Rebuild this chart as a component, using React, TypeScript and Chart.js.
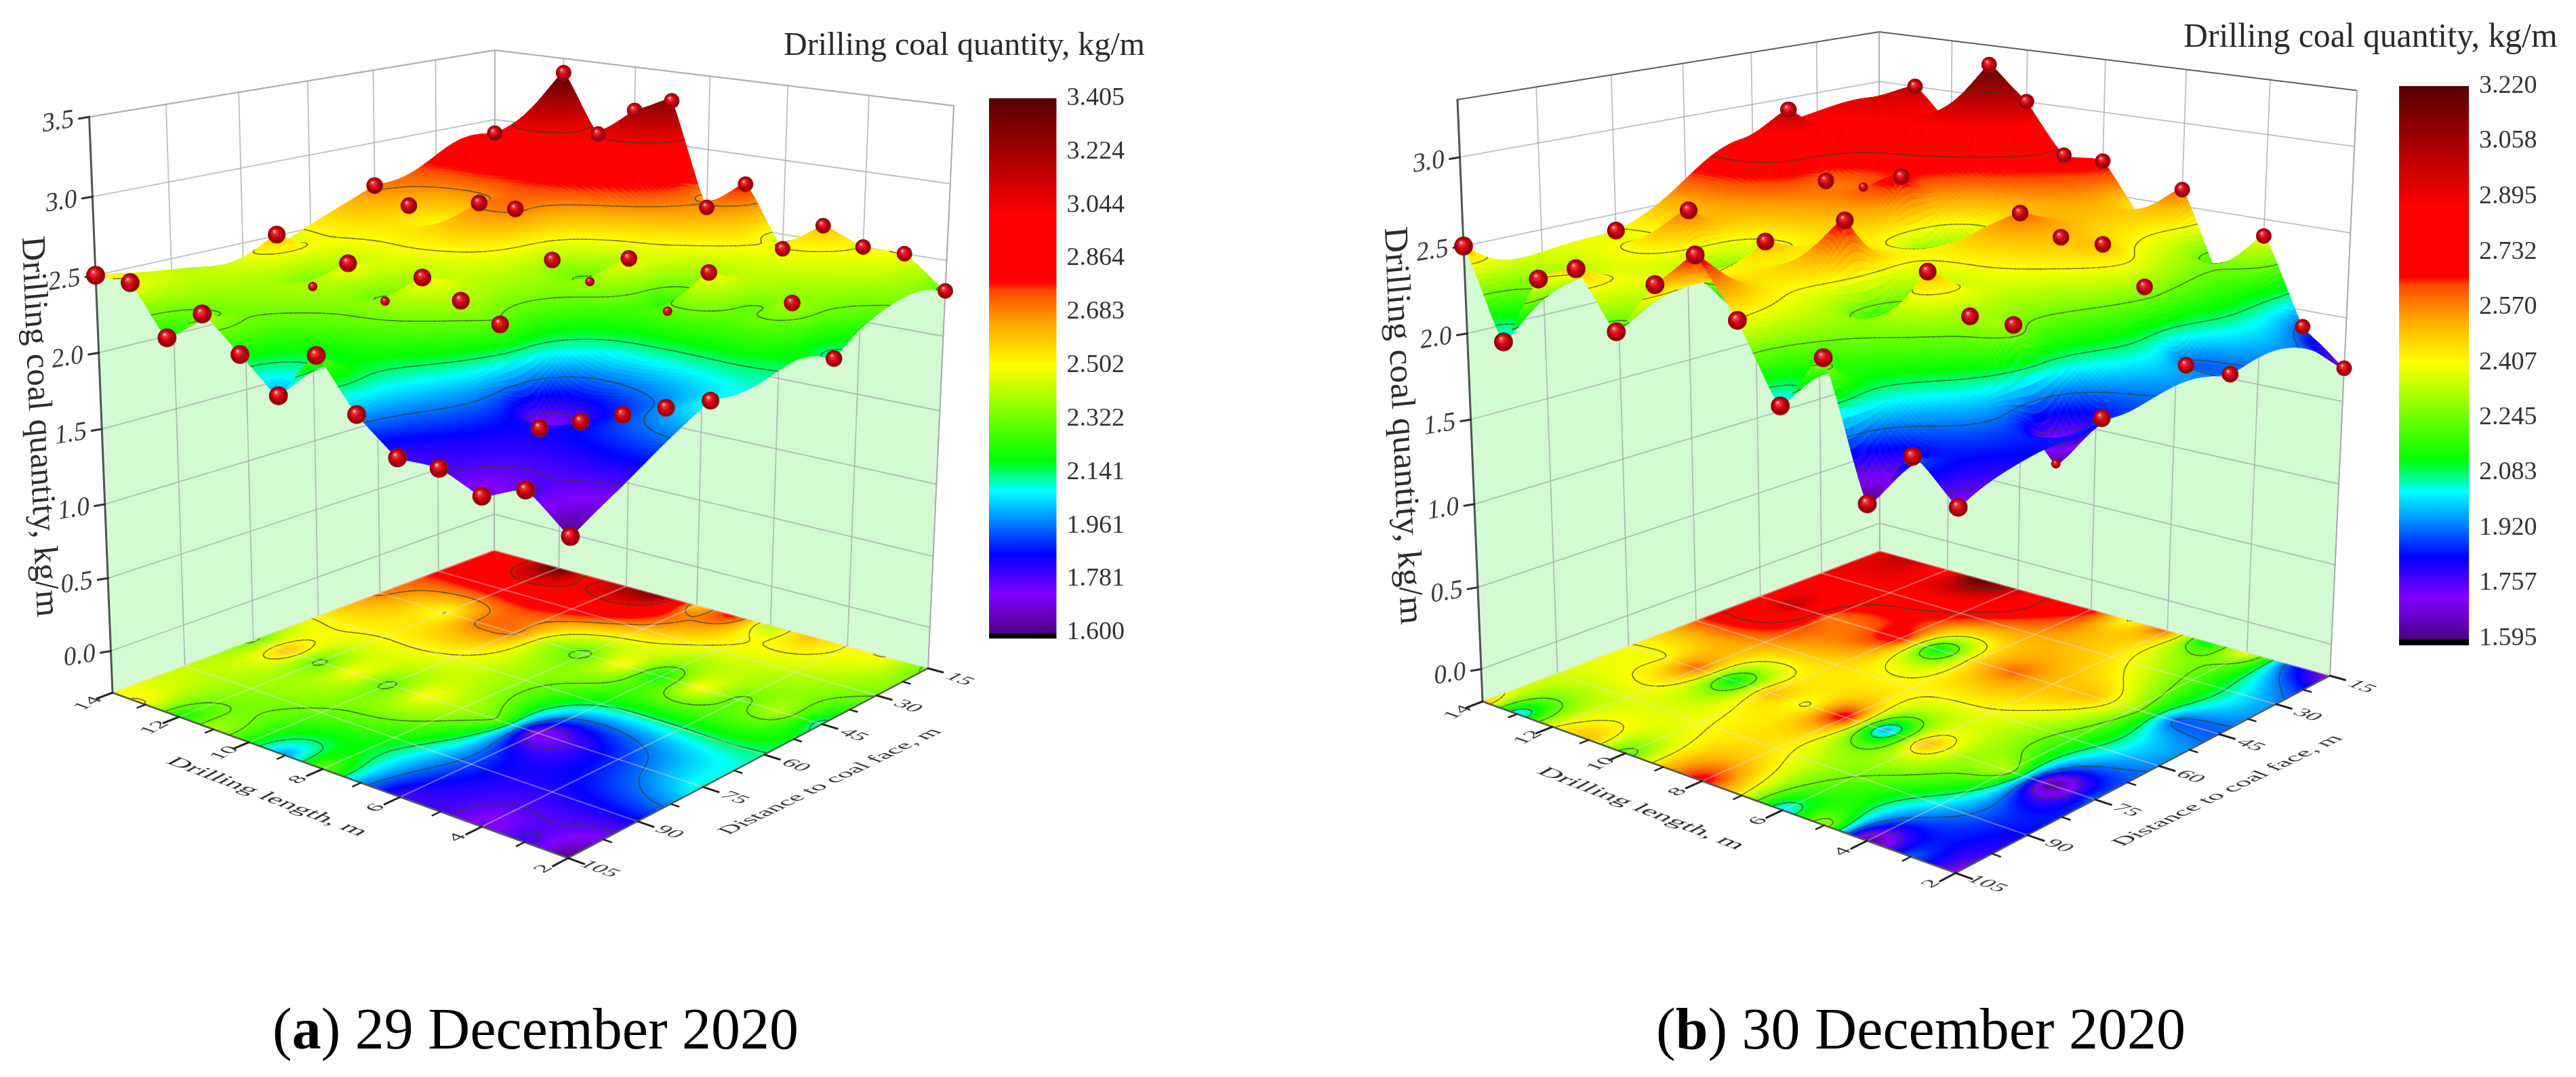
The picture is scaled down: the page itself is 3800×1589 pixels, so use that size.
import React, { useEffect, useRef } from "react";
import { Chart, registerables } from "chart.js";
Chart.register(...registerables);

// ---------- data ----------
const lengths = [14, 13, 12, 11, 10, 9, 8, 7, 6, 5, 4, 3, 2];
const distances = [15, 45, 75, 105];

const dec29_d15 = [2.9, 3.0, 3.4, 3.0, 3.2, 3.3, 2.6, 2.8, 2.4, 2.6, 2.5, 2.5, 2.3];
const dec29_d45 = [2.7, 2.6, 2.5, 2.7, 2.7, 2.4, 2.3, 2.5, 2.2, 2.5, 2.3, 2.4, 2.1];
const dec29_d75 = [2.3, 2.6, 2.3, 2.5, 2.3, 2.5, 2.4, 2.3, 1.7, 1.8, 1.9, 2.0, 2.1];
const dec29_d105 = [2.5, 2.5, 2.2, 2.4, 2.2, 2.0, 2.3, 2.0, 1.8, 1.8, 1.7, 1.8, 1.6];

const dec30_d15 = [2.9, 3.0, 2.8, 3.2, 3.0, 2.7, 2.7, 2.4, 2.6, 2.1, 2.4, 1.9, 1.7];
const dec30_d45 = [2.8, 3.0, 2.6, 2.6, 2.7, 2.1, 2.45, 2.6, 2.5, 2.5, 2.3, 1.9, 1.9];
const dec30_d75 = [2.4, 2.4, 2.6, 2.1, 2.5, 2.4, 2.7, 1.95, 2.5, 2.3, 2.3, 1.6, 1.9];
const dec30_d105 = [2.5, 2.0, 2.4, 2.5, 2.2, 2.5, 2.7, 2.4, 2.0, 2.3, 1.6, 1.9, 1.7];

// nodes [distance, length] whose marker is not visible / only peeks through the surface
const dec29_noMarker = [[15, 13], [45, 12], [45, 4], [75, 14]];
const dec29_peeking = [[45, 8], [45, 6], [75, 12], [75, 10]];
const dec30_noMarker = [[15, 14], [15, 12], [15, 7], [15, 5], [45, 14], [45, 9], [45, 8], [75, 13], [75, 11], [75, 9], [75, 7]];
const dec30_peeking = [[45, 11], [75, 3]];

const zTicks29 = [0, 0.5, 1, 1.5, 2, 2.5, 3, 3.5];
const zTicks30 = [0, 0.5, 1, 1.5, 2, 2.5, 3];
const lengthTicks = [14, 12, 10, 8, 6, 4, 2];
const lengthMinor = [13, 11, 9, 7, 5, 3];
const distanceTicks = [15, 30, 45, 60, 75, 90, 105];
const distanceMinor = [22.5, 37.5, 52.5, 67.5, 82.5, 97.5];

const barTicks29 = [3.405, 3.224, 3.044, 2.864, 2.683, 2.502, 2.322, 2.141, 1.961, 1.781, 1.6];
const barTicks30 = [3.22, 3.058, 2.895, 2.732, 2.57, 2.407, 2.245, 2.083, 1.92, 1.757, 1.595];
const contour29 = [1.781, 1.961, 2.141, 2.322, 2.502, 2.683, 3.044];
const contour30 = [1.757, 1.92, 2.083, 2.245, 2.407, 2.732, 3.058];

const SERIF = '"Liberation Serif"';

// ---------- colour map ----------
const cmapStops: [number, number[]][] = [
  [0, [80, 0, 135]], [0.074, [128, 0, 255]], [0.147, [0, 0, 255]], [0.265, [0, 255, 255]],
  [0.323, [0, 255, 0]], [0.5, [255, 255, 0]], [0.58, [255, 165, 0]], [0.64, [255, 70, 0]],
  [0.655, [255, 0, 0]], [0.78, [255, 0, 0]], [1, [85, 0, 0]],
];
const LUT: string[] = [];
for (let i = 0; i <= 1024; i++) {
  const v = i / 1024;
  let k = 0;
  while (k < cmapStops.length - 2 && v > cmapStops[k + 1][0]) k++;
  const [a, ca] = cmapStops[k];
  const [b, cb] = cmapStops[k + 1];
  const t = (v - a) / (b - a);
  LUT.push(`rgb(${Math.round(ca[0] + (cb[0] - ca[0]) * t)},${Math.round(ca[1] + (cb[1] - ca[1]) * t)},${Math.round(ca[2] + (cb[2] - ca[2]) * t)})`);
}
const cmap = (v: number) => LUT[Math.max(0, Math.min(1024, Math.round(v * 1024)))];

// ---------- projection ----------
type P = [number, number];
function homography(B: P, R: P, F: P, L: P) {
  const dx1 = R[0] - F[0], dx2 = L[0] - F[0], sx = B[0] - R[0] + F[0] - L[0];
  const dy1 = R[1] - F[1], dy2 = L[1] - F[1], sy = B[1] - R[1] + F[1] - L[1];
  const den = dx1 * dy2 - dx2 * dy1;
  const g = (sx * dy2 - dx2 * sy) / den;
  const h = (dx1 * sy - sx * dy1) / den;
  const a = R[0] - B[0] + g * R[0], b = L[0] - B[0] + h * L[0], c = B[0];
  const d = R[1] - B[1] + g * R[1], e = L[1] - B[1] + h * L[1], f = B[1];
  return (s: number, r: number): P => {
    const w = g * s + h * r + 1;
    return [(a * s + b * r + c) / w, (d * s + e * r + f) / w];
  };
}
function makeProject(p: any) {
  const h0 = homography(p.B, p.R, p.F, p.L);
  const h1 = homography(p.Bt, p.Rt, p.Ft, p.Lt);
  return (s: number, r: number, z: number): P => {
    const t = (z - p.z0) / (p.z1 - p.z0);
    const w = t - 0.058 * t * (1 - t);
    const a = h0(s, r), b = h1(s, r);
    return [a[0] + (b[0] - a[0]) * w, a[1] + (b[1] - a[1]) * w];
  };
}
const sOf = (len: number) => (14 - len) / 12;
const rOf = (dist: number) => (dist - 15) / 90;

// ---------- surface: smooth trend through the nodes plus a local peak at each node ----------
const NU = 192, NV = 132;
const TREND_U = 1.5, TREND_V = 0.42, PEAK_U = 0.8, PEAK_V = 0.24, PEAK_POW = 1.3;

function solve(A: number[][], b: number[]) {
  const n = b.length;
  const M = A.map((row, i) => [...row, b[i]]);
  for (let c = 0; c < n; c++) {
    let piv = c;
    for (let i = c + 1; i < n; i++) if (Math.abs(M[i][c]) > Math.abs(M[piv][c])) piv = i;
    [M[c], M[piv]] = [M[piv], M[c]];
    for (let i = c + 1; i < n; i++) {
      const f = M[i][c] / M[c][c];
      if (f) for (let k = c; k <= n; k++) M[i][k] -= f * M[c][k];
    }
  }
  const x = new Array(n).fill(0);
  for (let i = n - 1; i >= 0; i--) {
    let s = M[i][n];
    for (let k = i + 1; k < n; k++) s -= M[i][k] * x[k];
    x[i] = s / M[i][i];
  }
  return x;
}
function surfaceGrid(rows: number[][]) {
  const nodes: { u: number; v: number; z: number }[] = [];
  rows.forEach((row, v) => row.forEach((z, u) => nodes.push({ u, v, z })));
  const trendAt = (u: number, v: number) => {
    let s = 0, w = 0;
    for (const n of nodes) {
      const du = (u - n.u) / TREND_U, dv = (v - n.v) / TREND_V;
      const k = Math.exp(-0.5 * (du * du + dv * dv));
      s += k * n.z; w += k;
    }
    return s / w;
  };
  const peak = (u: number, v: number, n: any) => {
    const du = (u - n.u) / PEAK_U, dv = (v - n.v) / PEAK_V;
    return Math.exp(-Math.pow(du * du + dv * dv, PEAK_POW / 2));
  };
  const A = nodes.map((a) => nodes.map((b) => peak(a.u, a.v, b)));
  const e = nodes.map((n) => n.z - trendAt(n.u, n.v));
  const alpha = solve(A, e);
  const nc = rows[0].length, nr = rows.length;
  const out: number[][] = [];
  for (let i = 0; i <= NU; i++) {
    const u = (i / NU) * (nc - 1);
    const col: number[] = [];
    for (let j = 0; j <= NV; j++) {
      const v = (j / NV) * (nr - 1);
      let z = trendAt(u, v);
      nodes.forEach((n, m) => { z += alpha[m] * peak(u, v, n); });
      col.push(z);
    }
    out.push(col);
  }
  return out;
}

function drawMesh(ctx: any, project: any, vals: number[][], p: any, flat: boolean) {
  const pts: P[][] = vals.map((col, i) => col.map((v, j) => project(i / NU, j / NV, flat ? p.z0 : v)));
  const par = (i: number, j: number, z: number) => project(i / NU, j / NV, flat ? p.z0 : z);
  ctx.lineJoin = "round";
  ctx.lineCap = "round";
  const contourColumn = (i: number) => {
    ctx.beginPath();
    for (let j = 0; j < NV; j++) {
      const a = vals[i][j], b = vals[i + 1][j], c = vals[i + 1][j + 1], d = vals[i][j + 1];
      const lo = Math.min(a, b, c, d), hi = Math.max(a, b, c, d);
      for (const L of p.contours) {
        if (L < lo || L > hi) continue;
        const x: P[] = [];
        if ((a - L) * (b - L) < 0) x.push(par(i + (L - a) / (b - a), j, L));
        if ((b - L) * (c - L) < 0) x.push(par(i + 1, j + (L - b) / (c - b), L));
        if ((d - L) * (c - L) < 0) x.push(par(i + (L - d) / (c - d), j + 1, L));
        if ((a - L) * (d - L) < 0) x.push(par(i, j + (L - a) / (d - a), L));
        if (x.length >= 2) {
          ctx.moveTo(x[0][0], x[0][1]);
          ctx.lineTo(x[1][0], x[1][1]);
          if (x.length === 4) {
            ctx.moveTo(x[2][0], x[2][1]);
            ctx.lineTo(x[3][0], x[3][1]);
          }
        }
      }
    }
    ctx.strokeStyle = "rgba(45,65,30,0.62)";
    ctx.lineWidth = 1.6;
    ctx.stroke();
  };
  for (let i = 0; i < NU; i++) {
    for (let j = 0; j < NV; j++) {
      const a = vals[i][j], b = vals[i + 1][j], c = vals[i + 1][j + 1], d = vals[i][j + 1];
      const col = cmap(((a + b + c + d) / 4 - p.cMin) / (p.cMax - p.cMin));
      ctx.beginPath();
      ctx.moveTo(pts[i][j][0], pts[i][j][1]);
      ctx.lineTo(pts[i + 1][j][0], pts[i + 1][j][1]);
      ctx.lineTo(pts[i + 1][j + 1][0], pts[i + 1][j + 1][1]);
      ctx.lineTo(pts[i][j + 1][0], pts[i][j + 1][1]);
      ctx.closePath();
      ctx.fillStyle = col;
      ctx.strokeStyle = col;
      ctx.lineWidth = 0.9;
      ctx.fill();
      ctx.stroke();
    }
    // a column's contours go on once the next column is down, so no cell paints over them
    if (i > 0) contourColumn(i - 1);
  }
  contourColumn(NU - 1);
}

// ---------- text in a plane ----------
const unit = (v: P): P => { const n = Math.hypot(v[0], v[1]); return [v[0] / n, v[1] / n]; };
function textAlong(ctx: any, text: string, font: string, a: P, b: P, up: P, k: number, color: string) {
  ctx.save();
  ctx.font = font;
  ctx.fillStyle = color;
  ctx.textAlign = "left";
  ctx.textBaseline = "middle";
  const w = ctx.measureText(text).width;
  const u = unit(up);
  ctx.transform((b[0] - a[0]) / w, (b[1] - a[1]) / w, -u[0] * k, -u[1] * k, a[0], a[1]);
  ctx.fillText(text, 0, 0);
  ctx.restore();
}
function textAt(ctx: any, text: string, font: string, c: P, dir: P, up: P, k: number, color: string) {
  ctx.save();
  ctx.font = font;
  ctx.fillStyle = color;
  ctx.textAlign = "center";
  ctx.textBaseline = "middle";
  const d = unit(dir), u = unit(up);
  ctx.transform(d[0], d[1], -u[0] * k, -u[1] * k, c[0], c[1]);
  ctx.fillText(text, 0, 0);
  ctx.restore();
}
function seg(ctx: any, a: P, b: P, color: string, w: number) {
  ctx.beginPath();
  ctx.moveTo(a[0], a[1]);
  ctx.lineTo(b[0], b[1]);
  ctx.strokeStyle = color;
  ctx.lineWidth = w;
  ctx.stroke();
}

function drawScene(ctx: any, p: any, project: any, vals: number[][]) {
  const { z0, z1 } = p;
  ctx.save();
  ctx.translate(-p.left, 0);
  // skirts on the two back walls, under the surface's back edges
  const wall = "rgb(212,250,212)";
  ctx.fillStyle = wall;
  ctx.beginPath();
  for (let j = 0; j <= NV; j++) { const q = project(0, j / NV, vals[0][j]); j ? ctx.lineTo(q[0], q[1]) : ctx.moveTo(q[0], q[1]); }
  let q = project(0, 1, z0); ctx.lineTo(q[0], q[1]);
  q = project(0, 0, z0); ctx.lineTo(q[0], q[1]);
  ctx.closePath(); ctx.fill();
  ctx.beginPath();
  for (let i = 0; i <= NU; i++) { const t = project(i / NU, 0, vals[i][0]); i ? ctx.lineTo(t[0], t[1]) : ctx.moveTo(t[0], t[1]); }
  q = project(1, 0, z0); ctx.lineTo(q[0], q[1]);
  q = project(0, 0, z0); ctx.lineTo(q[0], q[1]);
  ctx.closePath(); ctx.fill();

  // wall grids
  const gc = "rgba(165,170,170,0.75)";
  for (const z of p.zTicks) {
    seg(ctx, project(0, 1, z), project(0, 0, z), gc, 1.8);
    seg(ctx, project(0, 0, z), project(1, 0, z), gc, 1.8);
  }
  for (const d of distanceTicks) seg(ctx, project(0, rOf(d), z0), project(0, rOf(d), z1), gc, 1.8);
  for (const l of lengthTicks) seg(ctx, project(sOf(l), 0, z0), project(sOf(l), 0, z1), gc, 1.8);
  seg(ctx, project(0, 1, z1), project(0, 0, z1), p.topEdge, p.topWidth);
  seg(ctx, project(0, 0, z1), project(1, 0, z1), p.topEdge, p.topWidth);
  seg(ctx, project(1, 0, z0), project(1, 0, z1), "rgba(165,170,170,0.9)", 1.8);

  // floor map
  drawMesh(ctx, project, vals, p, true);
  const fg = "rgba(235,225,225,0.42)";
  for (const d of distanceTicks) seg(ctx, project(0, rOf(d), z0), project(1, rOf(d), z0), fg, 2);
  for (const l of lengthTicks) seg(ctx, project(sOf(l), 0, z0), project(sOf(l), 1, z0), fg, 2);

  // vertical axis
  const ax = "#4f5552";
  seg(ctx, project(0, 1, z0), project(0, 1, z1), ax, 3);
  for (const z of p.zTicks) {
    const t = project(0, 1, z);
    seg(ctx, t, [t[0] - 15, t[1] + 2.5], "#333", 3);
    textAt(ctx, z.toFixed(1), `38px ${SERIF}`, [t[0] - 46, t[1] + 8], [1, -0.16], [0.05, -1], 1.05, "#3a3a3a");
  }
  // floor axes
  const L = project(0, 1, z0), F = project(1, 1, z0), R = project(1, 0, z0);
  seg(ctx, L, F, "#505a50", 2.4);
  seg(ctx, F, R, "#505a50", 2.4);
  const dirLF = unit([F[0] - L[0], F[1] - L[1]]);
  const dirFR = unit([R[0] - F[0], R[1] - F[1]]);
  const dirFL: P = [-dirLF[0], -dirLF[1]];
  for (const l of lengthTicks) seg(ctx, project(sOf(l), 1, z0), project(sOf(l), 1.035, z0), "#222", 3);
  for (const l of lengthMinor) seg(ctx, project(sOf(l), 1, z0), project(sOf(l), 1.018, z0), "#222", 2.5);
  for (const d of distanceTicks) seg(ctx, project(1, rOf(d), z0), project(1.03, rOf(d), z0), "#222", 3);
  for (const d of distanceMinor) seg(ctx, project(1, rOf(d), z0), project(1.015, rOf(d), z0), "#222", 2.5);
  for (const l of lengthTicks) {
    const t = project(sOf(l), 1, z0);
    textAt(ctx, String(l), `35px ${SERIF}`, [t[0] - 36, t[1] + 16], dirFR, dirFL, 0.8, "#3a3a3a");
  }
  for (const d of distanceTicks) {
    const t = project(1, rOf(d), z0);
    textAt(ctx, String(d), `35px ${SERIF}`, [t[0] + 46, t[1] + 16], dirLF, dirFR, 0.8, "#3a3a3a");
  }
  textAlong(ctx, "Drilling length, m", `38px ${SERIF}`, p.lenTitle[0], p.lenTitle[1], dirFR, 0.8, "#333");
  textAlong(ctx, "Distance to coal face, m", `38px ${SERIF}`, p.distTitle[0], p.distTitle[1], dirFL, 0.8, "#333");
  textAlong(ctx, "Drilling coal quantity, kg/m", `50px ${SERIF}`, p.zTitle[0], p.zTitle[1], [1, -0.1], 1, "#2c2c2c");

  // raised surface
  drawMesh(ctx, project, vals, p, false);
  ctx.restore();
}

// ---------- panels ----------
const panel29 = {
  left: 0, width: 1450, z0: -0.29, z1: 3.5,
  L: [166, 1022], B: [729, 812], R: [1369, 986], F: [838, 1266],
  Lt: [131.6, 172.5], Bt: [730, 74], Rt: [1407, 156], Ft: [845, 286],
  rows: [dec29_d15, dec29_d45, dec29_d75, dec29_d105],
  noMarker: dec29_noMarker, peeking: dec29_peeking,
  zTicks: zTicks29, contours: contour29, cMin: 1.6, cMax: 3.405,
  topEdge: "rgba(170,175,175,0.9)", topWidth: 2,
  lenTitle: [[250, 1121], [537, 1230]], distTitle: [[1067, 1229], [1383, 1077]], zTitle: [[46, 349], [68, 910]],
};
const panel30 = {
  left: 1950, width: 1580, z0: -0.2, z1: 3.32,
  L: [2187, 1035], B: [2773, 813], R: [3437, 997], F: [2885, 1288],
  Lt: [2150, 147], Bt: [2772, 47], Rt: [3477, 133.5], Ft: [2892, 261],
  rows: [dec30_d15, dec30_d45, dec30_d75, dec30_d105],
  noMarker: dec30_noMarker, peeking: dec30_peeking,
  zTicks: zTicks30, contours: contour30, cMin: 1.595, cMax: 3.22,
  topEdge: "#5c5f5e", topWidth: 2.2,
  lenTitle: [[2272, 1136], [2569, 1250]], distTitle: [[3123, 1246], [3450, 1087]], zTitle: [[2056, 335], [2080, 921]],
};

function SurfacePanel({ p }: { p: any }) {
  const ref = useRef<HTMLCanvasElement>(null);
  useEffect(() => {
    const project = makeProject(p);
    const vals = surfaceGrid(p.rows);
    const has = (list: number[][], d: number, l: number) => list.some((e) => e[0] === d && e[1] === l);
    const points: any[] = [];
    const sizes: number[] = [];
    distances.forEach((d, j) =>
      lengths.forEach((l, i) => {
        if (has(p.noMarker, d, l)) return;
        const q = project(sOf(l), rOf(d), p.rows[j][i]);
        points.push({ x: q[0], y: q[1] });
        sizes.push(has(p.peeking, d, l) ? 7 : 11.5 + 2.5 * rOf(d));
      })
    );
    const chart = new Chart(ref.current!, {
      type: "scatter",
      data: {
        datasets: [{
          data: points,
          showLine: false,
          clip: false,
          pointRadius: (c: any) => sizes[c.dataIndex] ?? 12,
          pointBorderWidth: 0,
          pointBackgroundColor: (c: any) => {
            if (!c.parsed) return "#c00010";
            const sx = c.chart.scales.x, sy = c.chart.scales.y;
            const x = sx.getPixelForValue(c.parsed.x), y = sy.getPixelForValue(c.parsed.y);
            if (!Number.isFinite(x) || !Number.isFinite(y)) return "#c00010";
            const rad = sizes[c.dataIndex] ?? 12;
            const g = c.chart.ctx.createRadialGradient(x - rad * 0.28, y - rad * 0.38, rad * 0.05, x, y, rad);
            g.addColorStop(0, "#ffc8c8");
            g.addColorStop(0.16, "#f23a3a");
            g.addColorStop(0.5, "#d40012");
            g.addColorStop(0.85, "#8a0008");
            g.addColorStop(1, "#a81414");
            return g;
          },
        }],
      },
      options: {
        animation: false,
        responsive: false,
        layout: { padding: 0, autoPadding: false },
        plugins: { legend: { display: false }, tooltip: { enabled: false } },
        events: [],
        scales: {
          x: { type: "linear", display: false, min: p.left, max: p.left + p.width },
          y: { type: "linear", display: false, min: 0, max: 1589, reverse: true },
        },
      },
      plugins: [{
        id: "scene",
        beforeDatasetsDraw(c: any) { drawScene(c.ctx, p, project, vals); },
      }],
    } as any);
    return () => chart.destroy();
  }, [p]);
  return <canvas ref={ref} width={p.width} height={1589} style={{ position: "absolute", left: p.left, top: 0, width: p.width, height: 1589 }} />;
}

function ColorBar({ ticks, min, left, top, w, h, barW, padTop, padBottom }: any) {
  const ref = useRef<HTMLCanvasElement>(null);
  useEffect(() => {
    const lo = ticks[ticks.length - 1], hi = ticks[0];
    const chart = new Chart(ref.current!, {
      type: "bar",
      data: {
        labels: ["scale"],
        datasets: [{
          data: [[min, hi]],
          barPercentage: 1,
          categoryPercentage: 1,
          backgroundColor: (c: any) => {
            const y = c.chart.scales.y;
            if (!y) return "#000";
            const top = y.getPixelForValue(hi), bot = y.getPixelForValue(min);
            if (!Number.isFinite(top) || !Number.isFinite(bot)) return "#000";
            const g = c.chart.ctx.createLinearGradient(0, bot, 0, top);
            const off = (v: number) => (v - min) / (hi - min);
            g.addColorStop(0, "#000");
            g.addColorStop(off(lo) * 0.75, "#000");
            cmapStops.forEach(([t, col]) => g.addColorStop(off(lo + t * (hi - lo)), `rgb(${col.join(",")})`));
            return g;
          },
        }],
      },
      options: {
        animation: false,
        responsive: false,
        layout: { padding: { top: padTop, bottom: padBottom, left: 0, right: 0 }, autoPadding: false },
        plugins: { legend: { display: false }, tooltip: { enabled: false } },
        events: [],
        scales: {
          x: { display: false },
          y: {
            position: "right",
            min,
            max: hi,
            grid: { display: false, drawTicks: false },
            border: { display: false },
            afterBuildTicks: (a: any) => { a.ticks = ticks.map((value: number) => ({ value })); },
            afterFit: (a: any) => { a.width = w - barW; },
            ticks: {
              autoSkip: false,
              padding: 15,
              color: "#333",
              font: { family: "Liberation Serif", size: 38 },
              callback: (v: any) => Number(v).toFixed(3),
            },
          },
        },
      },
    } as any);
    return () => chart.destroy();
  }, []);
  return <canvas ref={ref} width={w} height={h} style={{ position: "absolute", left, top, width: w, height: h }} />;
}

const label = (left: number, top: number, size: number, lh: number, color: string): React.CSSProperties => ({
  position: "absolute", left, top, fontFamily: SERIF, fontSize: size, lineHeight: `${lh}px`, color, whiteSpace: "nowrap",
});

export default function App() {
  return (
    <div style={{ position: "absolute", left: 0, top: 0, width: 3800, height: 1589, overflow: "hidden", background: "#fff" }}>
      <SurfacePanel p={panel29} />
      <SurfacePanel p={panel30} />
      <ColorBar ticks={barTicks29} min={1.58} left={1459} top={100} w={230} h={880} barW={99.5} padTop={45} padBottom={34} />
      <ColorBar ticks={barTicks30} min={1.574} left={3539} top={80} w={240} h={910} barW={103} padTop={47} padBottom={29} />
      <div style={label(1156, 35, 48, 60, "#2a2a2a")}>Drilling coal quantity, kg/m</div>
      <div style={label(3221, 23, 49.7, 60, "#2a2a2a")}>Drilling coal quantity, kg/m</div>
      <div style={label(402, 1468, 86, 100, "#000")}>(<b>a</b>) 29 December 2020</div>
      <div style={label(2443, 1468, 86, 100, "#000")}>(<b>b</b>) 30 December 2020</div>
    </div>
  );
}
